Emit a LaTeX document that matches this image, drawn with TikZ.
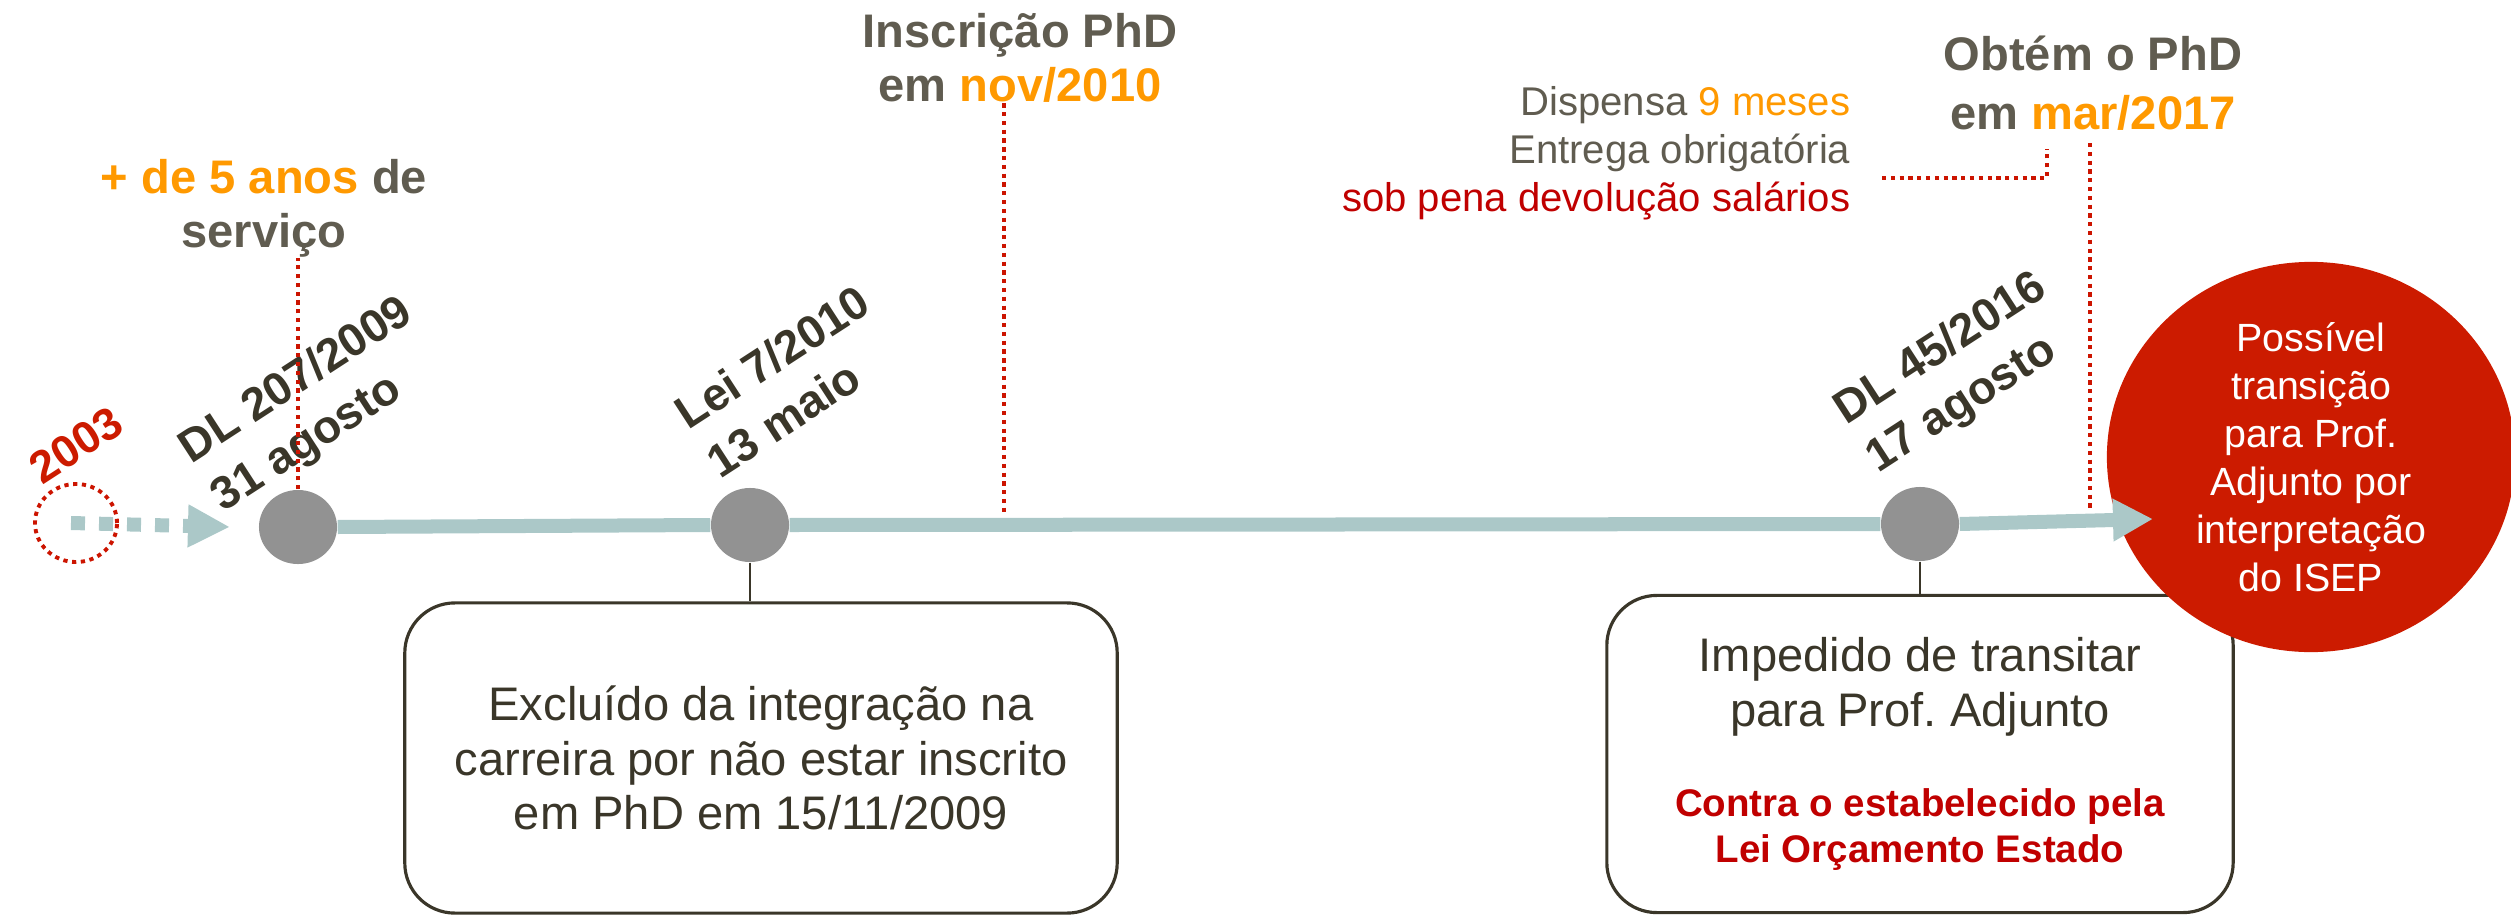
\documentclass[tikz,border=0pt]{standalone}
\usepackage{fontspec}
\setmainfont{Liberation Sans}
\usetikzlibrary{calc,positioning,arrows.meta,shapes}
\definecolor{tlblue}{RGB}{171,200,200}
\definecolor{evgray}{RGB}{146,146,146}
\definecolor{ink}{RGB}{58,54,41}
\definecolor{hgray}{RGB}{96,92,80}
\definecolor{hor}{RGB}{255,153,0}
\definecolor{dred}{RGB}{204,20,0}
\definecolor{bred}{RGB}{192,0,0}
\definecolor{cred}{RGB}{204,27,0}
\frenchspacing

\begin{document}
\begin{tikzpicture}[x=0.01cm,y=-0.01cm,
  evt/.style={ellipse,fill=evgray,minimum width=0.78cm,minimum height=0.74cm,inner sep=0pt},
  rlab/.style={rotate=33,align=left,text=ink,font=\fontsize{13.1}{16.5}\selectfont\bfseries,inner sep=0pt},
  head/.style={align=center,text=hgray,font=\fontsize{13.4}{15.4}\selectfont\bfseries,inner sep=0pt},
  box/.style={draw=ink,line width=0.9pt,rounded corners=0.5cm,align=center,text=ink,inner sep=0pt,font=\fontsize{13.4}{15.4}\selectfont},
  vred/.style={dred,line width=1.1pt,dash pattern=on 1.2pt off 1.3pt},
  tline/.style={tlblue,line width=0.14cm},
  stem/.style={ink,line width=0.6pt}]
 \useasboundingbox (0,0) rectangle (2511,915);

 \node[evt] (c1) at (298,527) {};
 \node[evt] (c2) at (750,525) {};
 \node[evt] (c3) at (1920,524) {};
 \node[ellipse,draw,vred,minimum width=0.82cm,minimum height=0.78cm,inner sep=0pt] (o2003) at (76,523) {};
 \coordinate (t0) at (230,527);
 \coordinate (tip) at (2153,519);
 \coordinate (nov) at (1004,515);
 \coordinate (mar) at (2090,512);
 \coordinate (pin) at (2047,149);

 \node[rlab,text=cred,font=\fontsize{12.8}{15}\selectfont\bfseries] (y2003) at (76,445) {2003};
 \node[rlab] (l1) at (313,406) {DL 207/2009\\31 agosto};
 \node[rlab] (l2) at (788,381) {Lei 7/2010\\13 maio};
 \node[rlab] (l3) at (1957,374) {DL 45/2016\\17 agosto};

 \node[head] (serv) at (264,208) {{\color{hor}+ de 5 anos} de\\servi\c{c}o};
 \node[head] (inscr) at (1020,58) {Inscrição PhD\\em {\color{hor}nov/2010}};
 \node[head] (obt) at (2093,83) {Obtém o PhD\\[0.05cm]em {\color{hor}mar/2017}};
 \node[align=right,anchor=east,text=hgray,inner sep=0pt,font=\fontsize{11.4}{13.66}\selectfont] (disp) at (1851,153)
   {Dispensa {\color{hor}9 meses}\\Entrega obrigatória\\{\color{bred}sob pena devolução salários}};

 \node[box,minimum width=7.12cm,minimum height=3.1cm] (b1) at (761,758)
   {Excluído da integração na\\carreira por não estar inscrito\\em PhD em 15/11/2009};
 \node[box,minimum width=6.26cm,minimum height=3.17cm] (b2) at (1920,754)
   {Impedido de transitar\\para Prof. Adjunto\\[0.36cm]{\fontsize{10.95}{13}\selectfont\bfseries\color{bred}Contra o estabelecido pela}\\[-0.08cm]{\fontsize{10.95}{13}\selectfont\bfseries\color{bred}Lei Orçamento Estado}};

 \node[ellipse,fill=cred,minimum width=4.08cm,minimum height=3.9cm,inner sep=0pt] (isep) at (2311,457) {};
 \node[align=center,text=white,inner sep=0pt,font=\fontsize{11.2}{13.66}\selectfont] (isept) at (isep.center)
   {Possível\\transição\\para Prof.\\Adjunto por\\interpretação\\do ISEP};

 \draw[stem] (c2.south) -- (c2.south |- b1.north);
 \draw[stem] (c3.south) -- (b2.north);
 \draw[vred] (c1.north) -- (c1.north |- serv.south);
 \draw[vred] (nov |- inscr.south) -- (nov);
 \draw[vred] ($(mar |- obt.south)+(0,12)$) -- (mar);
 \draw[vred] ($(disp.east)+(31,25)$) -| (pin);

 \draw[tline] (c1.east) -- (c2.west) (c2.east) -- (c3.west);
 \draw[tline,-{Triangle[length=0.4cm,width=0.4cm]}] (c3.east) -- (tip);
 \draw[tline,dash pattern=on 0.14cm off 0.14cm,-{Triangle[length=0.42cm,width=0.4cm]}] ([xshift=-0.05cm]o2003.center) -- (t0);
\end{tikzpicture}
\end{document}
